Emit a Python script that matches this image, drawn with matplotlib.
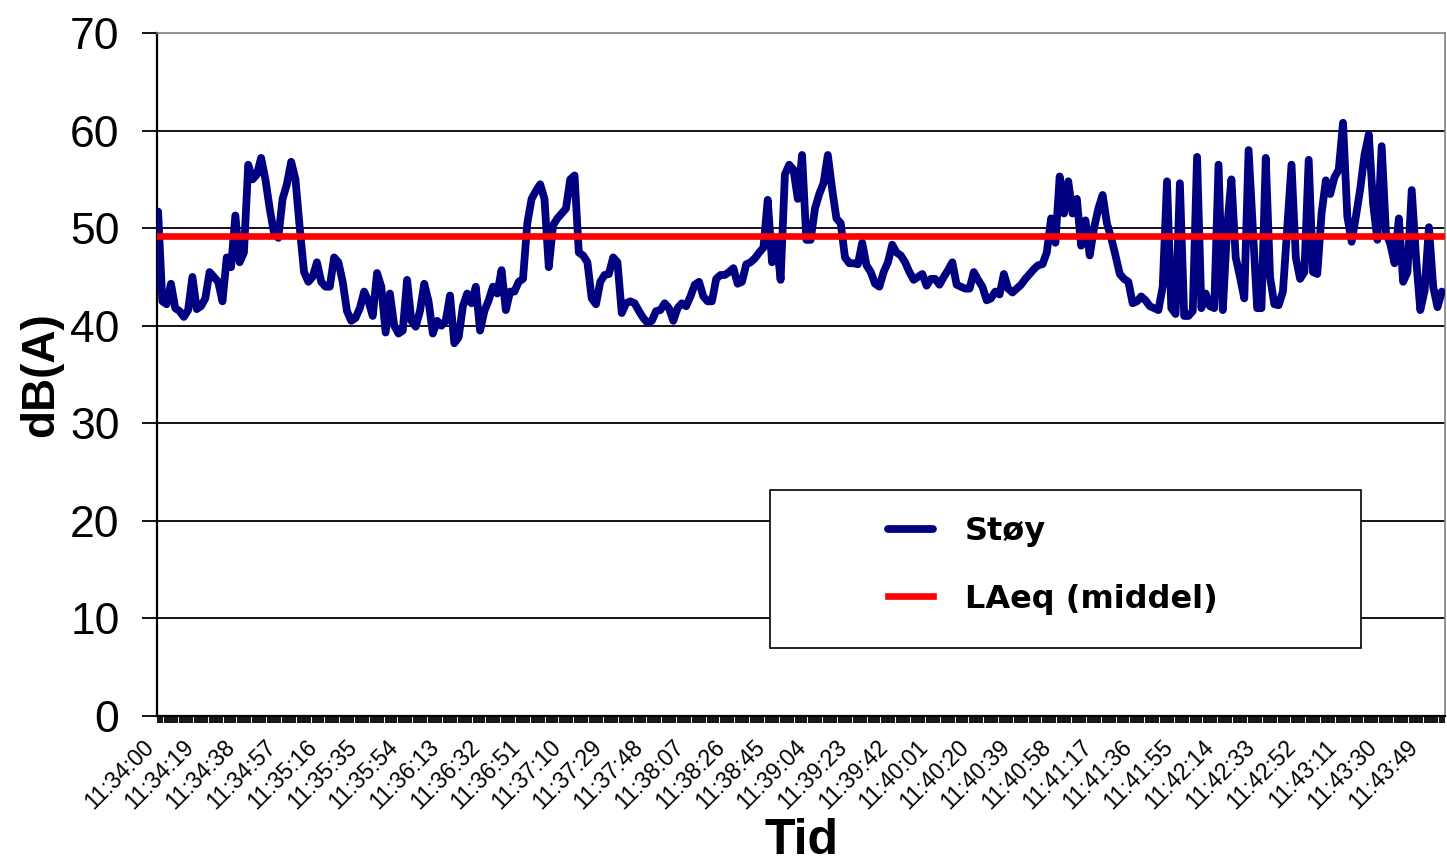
import numpy as np
import matplotlib
matplotlib.use("Agg")
import matplotlib.pyplot as plt
from matplotlib.patches import Rectangle

plt.rcParams['font.family'] = 'Liberation Sans'

stoy = [
    51.7, 42.5, 42.2, 44.3, 41.8, 41.5, 40.9, 41.6, 45.0, 41.7,
    42.0, 42.8, 45.5, 45.0, 44.5, 42.5, 47.0, 46.0, 51.3, 46.5,
    47.5, 56.5, 55.0, 55.5, 57.2, 55.0, 52.0, 49.5, 49.0, 53.0,
    54.5, 56.8, 55.0, 50.0, 45.5, 44.5, 45.0, 46.5, 44.5, 44.0,
    44.0, 47.0, 46.5, 44.5, 41.5, 40.5, 40.8, 41.8, 43.5, 42.5,
    41.0, 45.4, 44.0, 39.3, 43.3, 40.0, 39.2, 39.5, 44.7, 40.5,
    39.9, 41.5, 44.3, 42.5, 39.2, 40.5, 40.0, 40.5, 43.1, 38.2,
    38.8, 42.0, 43.3, 42.3, 44.0, 39.5, 41.5, 42.6, 44.0, 43.3,
    45.7, 41.6, 43.5, 43.5, 44.5, 44.8, 50.5, 53.0, 53.8, 54.5,
    53.0, 46.0, 50.3, 51.0, 51.5, 52.0, 55.0, 55.4, 47.5,
    47.2, 46.5, 42.8, 42.2, 44.5, 45.2, 45.3, 47.0, 46.5, 41.3,
    42.3, 42.5, 42.3, 41.5, 40.8, 40.3, 40.5, 41.5, 41.6, 42.3,
    41.8, 40.5, 41.8, 42.3, 42.0, 43.0, 44.2, 44.5, 43.0, 42.5,
    42.5, 44.8, 45.2, 45.2, 45.5, 45.9, 44.3, 44.5, 46.3, 46.5,
    46.9, 47.5, 48.0, 52.9, 46.5, 49.0, 44.7, 55.5, 56.5,
    56.0, 53.0, 57.5, 48.8, 48.8, 52.0, 53.5, 54.6, 57.5, 54.0,
    51.0, 50.5, 47.0, 46.4, 46.4, 46.3, 48.5, 46.2, 45.5, 44.3,
    44.0, 45.5, 46.5, 48.3, 47.5, 47.2, 46.5, 45.5, 44.7, 45.0,
    45.3, 44.1, 44.8, 44.8, 44.2, 45.0, 45.7, 46.5, 44.2, 44.0,
    43.8, 43.8, 45.5, 44.7, 44.0, 42.6, 42.8, 43.5,
    43.2, 45.3, 43.8, 43.4, 43.8, 44.2, 44.8, 45.3, 45.8, 46.2,
    46.3, 47.5, 51.0, 48.5, 55.3, 51.5, 54.8, 51.5, 53.0, 48.2,
    50.8, 47.2, 50.0, 52.0, 53.4, 50.5, 49.0, 47.2, 45.3, 44.8,
    44.5, 42.3, 42.5, 43.0, 42.6, 42.0, 41.8, 41.6, 44.0, 54.8,
    41.8, 41.2, 54.6, 41.0, 41.0, 41.5, 57.3, 41.8, 43.3,
    42.0, 41.8, 56.5, 41.6, 50.0, 55.0, 47.0, 45.0, 42.8, 58.0,
    50.0, 41.8, 41.8, 57.2, 45.0, 42.2, 42.1, 43.5, 50.0, 56.5,
    47.0, 44.8, 45.5, 57.0, 45.5, 45.3, 51.5, 54.9, 53.5, 55.2,
    56.0, 60.8, 51.2, 48.6, 51.2, 54.0, 57.5, 59.6, 52.5, 48.8,
    58.4, 49.5, 48.4, 46.4, 51.0, 44.5, 45.5, 53.9, 47.0, 41.6,
    43.6, 50.1, 44.0, 41.9, 43.5,
]
laeq = 49.2
n_sek = 600
tick_step = 19
tid_labels = [
    "11:34:00", "11:34:19", "11:34:38", "11:34:57", "11:35:16", "11:35:35",
    "11:35:54", "11:36:13", "11:36:32", "11:36:51", "11:37:10", "11:37:29",
    "11:37:48", "11:38:07", "11:38:26", "11:38:45", "11:39:04", "11:39:23",
    "11:39:42", "11:40:01", "11:40:20", "11:40:39", "11:40:58", "11:41:17",
    "11:41:36", "11:41:55", "11:42:14", "11:42:33", "11:42:52", "11:43:11",
    "11:43:30", "11:43:49",
]

fig = plt.figure(figsize=(14.47, 8.63), dpi=100)
ax = fig.add_axes([157 / 1447, 147 / 863, 1288 / 1447, 683 / 863])

x = np.arange(len(stoy)) * 2
ax.plot(x, stoy, color='#000080', lw=5.6, solid_joinstyle='round',
        solid_capstyle='round', zorder=3, label='Støy')
ax.axhline(laeq, color='#ff0000', lw=4.8, zorder=4, label='LAeq (middel)')

ax.set_xlim(-0.5, n_sek - 0.5)
ax.set_ylim(0, 70)
ax.set_yticks(range(0, 71, 10))
ax.yaxis.grid(True, color='black', lw=1.3)
ax.set_axisbelow(True)
ax.get_ygridlines()[-1].set_visible(False)

for side in ['left', 'bottom']:
    ax.spines[side].set_color('black')
    ax.spines[side].set_linewidth(1.6)
for side in ['top', 'right']:
    ax.spines[side].set_color('#808080')
    ax.spines[side].set_linewidth(1.2)

ax.tick_params(axis='y', length=11, width=1.3, pad=16, labelsize=32)
ax.set_xticks(np.arange(len(tid_labels)) * tick_step)
ax.set_xticklabels(tid_labels, rotation=45, ha='right', fontsize=16.5)
ax.set_xticks(np.arange(n_sek), minor=True)
ax.tick_params(axis='x', which='both', length=5, width=1.3, pad=9)

ax.set_ylabel('dB(A)', fontsize=33, fontweight='bold')
ax.yaxis.set_label_coords(-0.073, 0.5)
ax.set_xlabel('Tid', fontsize=36, fontweight='bold')
ax.xaxis.set_label_coords(0.5, -0.149)

# legend box
rect = Rectangle((0.4759, 0.0996), 0.4589, 0.2313, transform=ax.transAxes,
                 facecolor='white', edgecolor='black', lw=1.2, zorder=5)
ax.add_patch(rect)
leg = ax.legend(loc='upper left', bbox_to_anchor=(0.5675, 0.2921), frameon=False,
                borderpad=0, borderaxespad=0, handlelength=1.42, handletextpad=1.0,
                labelspacing=1.13,
                prop={'family': 'DejaVu Sans', 'weight': 'bold', 'size': 23})
leg.set_zorder(6)

fig.savefig('out.png', dpi=100)
